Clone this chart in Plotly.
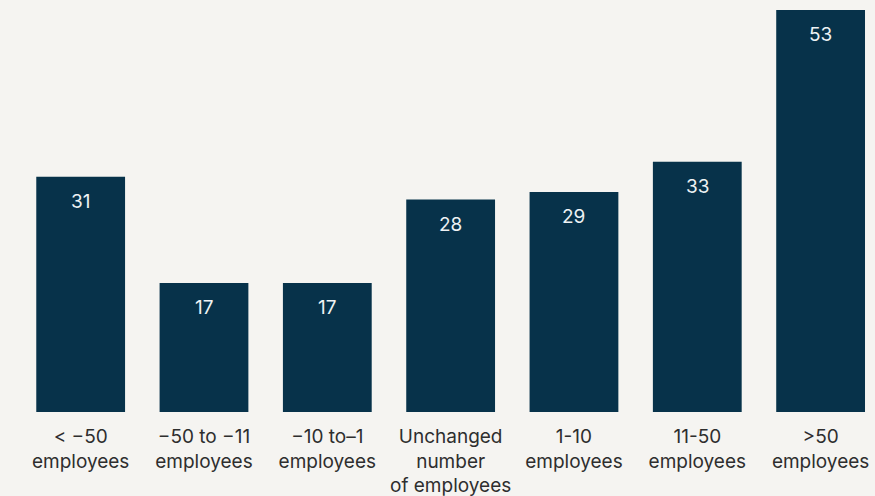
import plotly.graph_objects as go

categories = ["< \u221250<br>employees", "\u221250 to \u221211<br>employees", "\u221210 to\u20131<br>employees",
              "Unchanged<br>number<br>of employees", "1-10<br>employees", "11-50<br>employees", ">50<br>employees"]
values = [31, 17, 17, 28, 29, 33, 53]

BG = "#f5f4f1"
BAR = "#07324a"

fig = go.Figure()
fig.add_trace(go.Bar(x=list(range(len(values))), y=values, marker_color=BAR, marker_line_width=0,
                     width=0.72, hoverinfo="skip"))
for i, v in enumerate(values):
    fig.add_annotation(x=i, y=v, text=str(v), showarrow=False, yanchor="top", yshift=-11,
                       font=dict(family="Inter", size=19, color="#eef2f4"))

fig.update_layout(
    width=875, height=496, paper_bgcolor=BG, plot_bgcolor=BG,
    margin=dict(l=19, r=0, t=10, b=84), showlegend=False,
    xaxis=dict(tickmode="array", tickvals=list(range(len(values))), ticktext=categories,
               range=[-0.5, 6.441], showgrid=False, zeroline=False, showline=False,
               tickfont=dict(family="Inter", size=19, color="#2e2e2e"), ticks="", ticklabelstandoff=11),
    yaxis=dict(range=[0, 53], visible=False, showgrid=False, zeroline=False),
)
fig.write_html("out.html", config={"displayModeBar": False},
               post_script="document.body.style.margin='0';document.body.style.background='%s';" % BG)
